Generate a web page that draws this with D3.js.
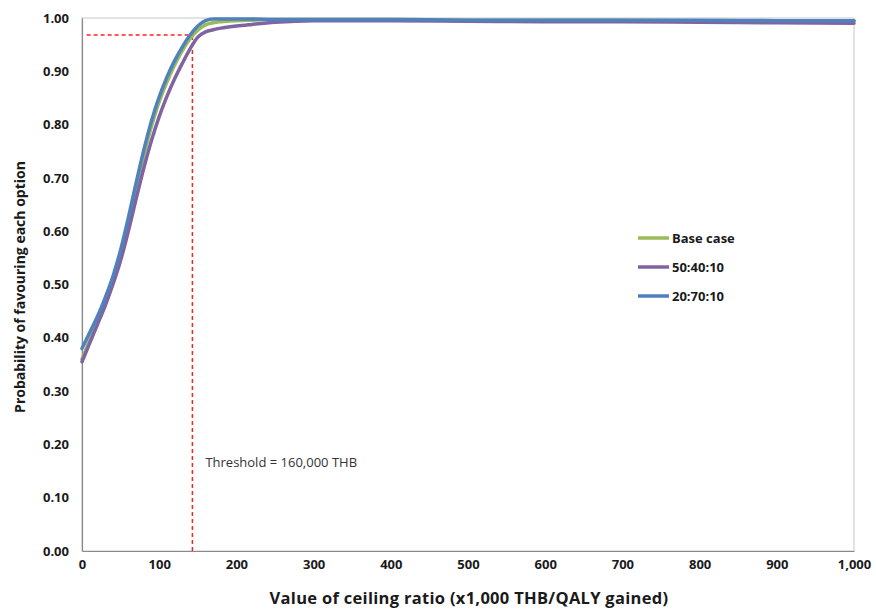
<!DOCTYPE html>
<html>
<head>
<meta charset="utf-8">
<script src="https://cdn.jsdelivr.net/npm/d3@7"></script>
<style>
  body { margin: 0; background: #fff; }
  svg { display: block; font-family: "Open Sans", "Liberation Sans", Arial, sans-serif; }
</style>
</head>
<body>
<div id="chart"></div>
<script>
// ceiling ratio (x1,000 THB/QALY gained)
const ceiling = [0, 10, 20, 30, 40, 50, 60, 70, 80, 90, 100, 110, 120, 130, 140, 150, 160, 170, 180, 200, 220, 250, 300, 400, 500, 600, 700, 800, 900, 1000];

const baseCase = [0.360, 0.395, 0.430, 0.465, 0.505, 0.555, 0.615, 0.680, 0.742, 0.797, 0.843, 0.880, 0.912, 0.939, 0.961, 0.977, 0.987, 0.991, 0.993, 0.995, 0.996, 0.997, 0.997, 0.997, 0.996, 0.996, 0.996, 0.995, 0.995, 0.995];
const s504010 = [0.355, 0.390, 0.425, 0.460, 0.500, 0.545, 0.600, 0.660, 0.718, 0.770, 0.815, 0.853, 0.886, 0.915, 0.942, 0.964, 0.974, 0.978, 0.981, 0.985, 0.988, 0.992, 0.995, 0.995, 0.994, 0.993, 0.993, 0.992, 0.991, 0.990];
const s207010 = [0.380, 0.410, 0.440, 0.475, 0.515, 0.565, 0.625, 0.690, 0.752, 0.807, 0.852, 0.889, 0.920, 0.946, 0.968, 0.985, 0.995, 0.998, 0.998, 0.998, 0.998, 0.997, 0.997, 0.997, 0.996, 0.996, 0.996, 0.996, 0.995, 0.995];

const seriesNames = ["Base case", "50:40:10", "20:70:10"];
const seriesColors = ["#9bbb59", "#8064a2", "#4f81bd"];
const seriesValues = [baseCase, s504010, s207010];

const xTicks = [0, 100, 200, 300, 400, 500, 600, 700, 800, 900, 1000];
const yTicks = [0, 0.1, 0.2, 0.3, 0.4, 0.5, 0.6, 0.7, 0.8, 0.9, 1.0];

// threshold reference lines
const thresholdX = 143;
const thresholdY = 0.968;
const thresholdLabel = "Threshold = 160,000 THB";

const W = 876, H = 611;
const margin = { top: 18, right: 22, bottom: 60, left: 82 };

const svg = d3.select("#chart").append("svg")
  .attr("width", W)
  .attr("height", H);

const x = d3.scaleLinear().domain([0, 1000]).range([margin.left, W - margin.right]);
const y = d3.scaleLinear().domain([0, 1]).range([H - margin.bottom, margin.top]);

// plot area border
svg.append("rect")
  .attr("x", x(0))
  .attr("y", y(1))
  .attr("width", x(1000) - x(0))
  .attr("height", y(0) - y(1))
  .attr("fill", "none")
  .attr("stroke", "#c8c8c8")
  .attr("stroke-width", 1);

// axes
const xAxis = svg.append("g")
  .attr("transform", `translate(0,${y(0)})`)
  .call(d3.axisBottom(x).tickValues(xTicks).tickSize(0).tickPadding(9)
    .tickFormat(d3.format(",")));
const yAxis = svg.append("g")
  .attr("transform", `translate(${x(0)},0)`)
  .call(d3.axisLeft(y).tickValues(yTicks).tickSize(0).tickPadding(13)
    .tickFormat(d3.format(".2f")));

[xAxis, yAxis].forEach(g => {
  g.select(".domain").attr("stroke", "#8a8a8a").attr("stroke-width", 1.2);
  g.selectAll("text")
    .attr("fill", "#1a1a1a")
    .attr("font-size", "13px")
    .attr("font-weight", "bold")
    .attr("font-family", "Open Sans, Liberation Sans, Arial, sans-serif");
});

// axis titles
svg.append("text")
  .attr("x", 469)
  .attr("y", 604)
  .attr("text-anchor", "middle")
  .attr("font-size", "16.5px")
  .attr("font-weight", "bold")
  .attr("letter-spacing", "0.3px")
  .attr("fill", "#1a1a1a")
  .text("Value of ceiling ratio (x1,000 THB/QALY gained)");

svg.append("text")
  .attr("transform", "translate(25,287) rotate(-90)")
  .attr("text-anchor", "middle")
  .attr("font-size", "14px")
  .attr("font-weight", "bold")
  .attr("fill", "#1a1a1a")
  .text("Probability of favouring each option");

// threshold dashed lines
svg.append("line")
  .attr("x1", x(thresholdX)).attr("x2", x(thresholdX))
  .attr("y1", y(0)).attr("y2", y(thresholdY))
  .attr("stroke", "#ff2020")
  .attr("stroke-width", 1.5)
  .attr("stroke-dasharray", "4,3");
svg.append("line")
  .attr("x1", x(6)).attr("x2", x(thresholdX))
  .attr("y1", y(thresholdY)).attr("y2", y(thresholdY))
  .attr("stroke", "#ff2020")
  .attr("stroke-width", 1.5)
  .attr("stroke-dasharray", "4,3");

svg.append("text")
  .attr("x", x(thresholdX) + 13)
  .attr("y", 467)
  .attr("font-size", "13px")
  .attr("fill", "#333")
  .text(thresholdLabel);

// curves
const line = d3.line()
  .x((d, i) => x(ceiling[i]))
  .y(d => y(d))
  .curve(d3.curveMonotoneX);

svg.append("g").selectAll("path")
  .data(seriesValues)
  .join("path")
  .attr("d", d => line(d))
  .attr("fill", "none")
  .attr("stroke", (d, i) => seriesColors[i])
  .attr("stroke-width", 3.5)
  .attr("stroke-linejoin", "round")
  .attr("stroke-linecap", "round");

// legend
const legend = svg.append("g").attr("transform", "translate(638,238)");
seriesNames.forEach((name, i) => {
  const row = legend.append("g").attr("transform", `translate(0,${i * 29})`);
  row.append("line")
    .attr("x1", 0).attr("x2", 31)
    .attr("stroke", seriesColors[i])
    .attr("stroke-width", 3.5);
  row.append("text")
    .attr("x", 34)
    .attr("y", 5)
    .attr("font-size", "13px")
    .attr("font-weight", "bold")
    .attr("fill", "#1a1a1a")
    .text(name);
});
</script>
</body>
</html>
